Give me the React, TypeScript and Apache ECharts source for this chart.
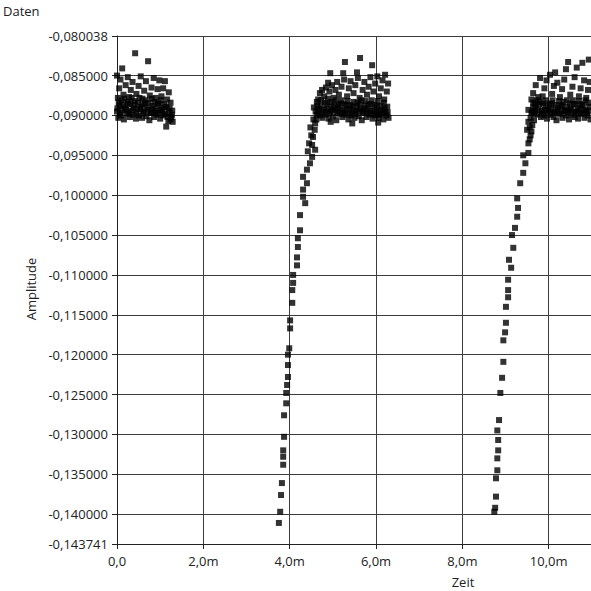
import React, { useEffect, useRef } from 'react';
import * as echarts from 'echarts';

// x in milliseconds, y amplitude
const xTicks = [0, 2, 4, 6, 8, 10];
const yTicks = [
  -0.143741, -0.14, -0.135, -0.13, -0.125, -0.12, -0.115, -0.11, -0.105, -0.1,
  -0.095, -0.09, -0.085, -0.080038,
];
const xRange = [0, 10.98];
const yRange = [-0.143741, -0.080038];

const plateau1: number[][] = [
  [0.0, -0.0895], [0.03, -0.0903], [0.06, -0.0888], [0.09, -0.09], [0.13, -0.0893], [0.16, -0.0905],
  [0.19, -0.089], [0.23, -0.0898], [0.26, -0.0886], [0.3, -0.0902], [0.33, -0.0894], [0.37, -0.0899],
  [0.4, -0.0887], [0.44, -0.0904], [0.47, -0.0892], [0.51, -0.09], [0.54, -0.0889], [0.58, -0.0903],
  [0.61, -0.0895], [0.65, -0.0885], [0.68, -0.0901], [0.72, -0.0893], [0.75, -0.0906], [0.79, -0.0897],
  [0.82, -0.0888], [0.86, -0.0902], [0.89, -0.0894], [0.93, -0.0899], [0.96, -0.0886], [1.0, -0.0904],
  [1.03, -0.0893], [1.07, -0.09], [1.1, -0.089], [1.14, -0.0914], [1.17, -0.0902], [1.2, -0.0896],
  [1.24, -0.0905], [1.27, -0.0899], [1.29, -0.0908],
  [0.0, -0.085], [0.02, -0.0878], [0.05, -0.0866], [0.08, -0.0855], [0.12, -0.0841], [0.15, -0.0874],
  [0.2, -0.0862], [0.25, -0.0852], [0.28, -0.0877], [0.32, -0.0868], [0.36, -0.0858], [0.42, -0.0822],
  [0.45, -0.0873], [0.5, -0.0863], [0.55, -0.0851], [0.59, -0.0879], [0.63, -0.0869], [0.67, -0.0857],
  [0.72, -0.0832], [0.76, -0.0875], [0.8, -0.0865], [0.85, -0.0853], [0.9, -0.0878], [0.94, -0.0867],
  [0.98, -0.0856], [1.03, -0.0876], [1.07, -0.0866], [1.11, -0.0857], [1.16, -0.088], [1.2, -0.0871],
  [1.24, -0.0884],
  [0.01, -0.0891], [0.04, -0.0884], [0.07, -0.0897], [0.1, -0.0881], [0.14, -0.0887], [0.17, -0.0879],
  [0.21, -0.0893], [0.24, -0.0883], [0.27, -0.0896], [0.31, -0.0885], [0.34, -0.0878], [0.38, -0.0891],
  [0.41, -0.0882], [0.45, -0.0896], [0.48, -0.0884], [0.52, -0.0878], [0.55, -0.0892], [0.59, -0.0886],
  [0.62, -0.0897], [0.66, -0.0881], [0.69, -0.089], [0.73, -0.0884], [0.77, -0.0896], [0.8, -0.0879],
  [0.84, -0.0891], [0.87, -0.0883], [0.91, -0.0897], [0.95, -0.0885], [0.98, -0.0893], [1.02, -0.0881],
  [1.05, -0.0896], [1.09, -0.0886], [1.12, -0.0898], [1.15, -0.0889], [1.19, -0.0907], [1.22, -0.0891],
  [1.26, -0.0902], [1.28, -0.0894],
];

const rise2: number[][] = [
  [3.75, -0.1411], [3.78, -0.1397], [3.8, -0.1376], [3.82, -0.1361], [3.85, -0.1338], [3.85, -0.1328],
  [3.85, -0.132], [3.87, -0.1303], [3.87, -0.1276], [3.92, -0.1261], [3.92, -0.1248], [3.94, -0.1238],
  [3.96, -0.1228], [3.96, -0.1213], [3.96, -0.12], [3.99, -0.1192], [4.01, -0.1167], [4.01, -0.1157],
  [4.06, -0.1135], [4.06, -0.1119], [4.08, -0.111], [4.08, -0.11], [4.17, -0.1088], [4.17, -0.1078],
  [4.19, -0.1065], [4.19, -0.1054], [4.24, -0.1044], [4.24, -0.1025], [4.36, -0.101], [4.31, -0.1002],
  [4.31, -0.0993], [4.4, -0.0985], [4.31, -0.0977], [4.4, -0.0968], [4.47, -0.096], [4.52, -0.0952],
  [4.59, -0.0943], [4.52, -0.0937], [4.54, -0.0927], [4.59, -0.091], [4.63, -0.0883], [4.63, -0.0899],
  [4.45, -0.0935], [4.5, -0.0925], [4.48, -0.0915], [4.55, -0.0905], [4.42, -0.0945], [4.58, -0.0918],
  [4.6, -0.0895], [4.56, -0.089],
];

const plateau2: number[][] = [
  [4.62, -0.0905], [4.66, -0.0895], [4.7, -0.09], [4.72, -0.0888], [4.76, -0.0903], [4.8, -0.0893],
  [4.83, -0.0899], [4.87, -0.0886], [4.9, -0.0904], [4.94, -0.0895], [4.97, -0.0889], [5.01, -0.0901],
  [5.04, -0.0893], [5.08, -0.0906], [5.11, -0.089], [5.15, -0.0898], [5.18, -0.0885], [5.22, -0.0902],
  [5.25, -0.0894], [5.29, -0.0899], [5.32, -0.0887], [5.36, -0.0905], [5.39, -0.0892], [5.43, -0.09],
  [5.46, -0.0889], [5.5, -0.0903], [5.53, -0.0895], [5.57, -0.0884], [5.6, -0.0901], [5.64, -0.0892],
  [5.67, -0.0906], [5.71, -0.0897], [5.74, -0.0888], [5.78, -0.0902], [5.81, -0.0893], [5.85, -0.0899],
  [5.88, -0.0886], [5.92, -0.0904], [5.95, -0.0894], [5.99, -0.09], [6.02, -0.0889], [6.06, -0.0903],
  [6.09, -0.0895], [6.13, -0.0898], [6.17, -0.0905], [6.2, -0.0891], [6.24, -0.09], [6.27, -0.0896],
  [4.95, -0.0908], [5.45, -0.091], [6.05, -0.0909],
  [4.89, -0.0859], [4.94, -0.0847], [5.24, -0.0847], [5.28, -0.0833], [5.56, -0.0846], [5.63, -0.0828],
  [5.91, -0.0837], [6.21, -0.0849],
  [4.66, -0.088], [4.7, -0.0872], [4.75, -0.0868], [4.8, -0.0876], [4.84, -0.0865], [4.92, -0.087],
  [4.98, -0.0862], [5.02, -0.0878], [5.06, -0.0868], [5.1, -0.0858], [5.14, -0.0874], [5.2, -0.0864],
  [5.26, -0.0855], [5.33, -0.0876], [5.37, -0.0866], [5.41, -0.0857], [5.48, -0.0872], [5.52, -0.0862],
  [5.58, -0.0853], [5.62, -0.0878], [5.69, -0.0868], [5.73, -0.0858], [5.79, -0.0874], [5.83, -0.0864],
  [5.87, -0.0852], [5.94, -0.087], [5.98, -0.086], [6.03, -0.0851], [6.07, -0.0876], [6.11, -0.0866],
  [6.15, -0.0856], [6.19, -0.088], [6.25, -0.087], [6.28, -0.086],
  [4.64, -0.0888], [4.68, -0.0892], [4.73, -0.0881], [4.78, -0.0896], [4.82, -0.0884], [4.85, -0.0892],
  [4.89, -0.0879], [4.92, -0.0897], [4.96, -0.0883], [4.99, -0.0893], [5.03, -0.0886], [5.07, -0.0881],
  [5.1, -0.0896], [5.13, -0.0887], [5.17, -0.0893], [5.2, -0.0881], [5.24, -0.0897], [5.27, -0.0886],
  [5.31, -0.0893], [5.34, -0.0882], [5.38, -0.0898], [5.41, -0.0887], [5.45, -0.0895], [5.48, -0.0883],
  [5.52, -0.0898], [5.55, -0.0889], [5.59, -0.0894], [5.62, -0.0886], [5.66, -0.0881], [5.69, -0.0895],
  [5.73, -0.0891], [5.76, -0.0882], [5.8, -0.0897], [5.83, -0.0886], [5.87, -0.0894], [5.9, -0.0881],
  [5.94, -0.0898], [5.97, -0.0887], [6.01, -0.0895], [6.04, -0.0882], [6.08, -0.0899], [6.11, -0.0888],
  [6.15, -0.0893], [6.18, -0.0884], [6.22, -0.0896], [6.26, -0.0889], [6.29, -0.0903],
];

const rise3: number[][] = [
  [8.74, -0.1397], [8.76, -0.1392], [8.78, -0.1378], [8.78, -0.1355], [8.81, -0.1345], [8.81, -0.133],
  [8.83, -0.132], [8.83, -0.1307], [8.81, -0.1295], [8.85, -0.1282], [8.88, -0.1248], [8.92, -0.1229],
  [8.95, -0.1209], [8.95, -0.1182], [8.99, -0.1172], [9.01, -0.116], [9.01, -0.114], [9.06, -0.1128],
  [9.06, -0.1119], [9.06, -0.1106], [9.13, -0.1091], [9.08, -0.1081], [9.18, -0.1066], [9.15, -0.105],
  [9.22, -0.1041], [9.27, -0.1027], [9.29, -0.1016], [9.27, -0.1004], [9.34, -0.0985], [9.41, -0.0972],
  [9.46, -0.096], [9.53, -0.0947], [9.41, -0.095], [9.53, -0.0935], [9.5, -0.0918], [9.53, -0.0908],
  [9.53, -0.0893], [9.76, -0.0877], [9.8, -0.0853],
  [9.58, -0.0925], [9.62, -0.0912], [9.66, -0.0898], [9.56, -0.093], [9.64, -0.089], [9.6, -0.092],
];

const plateau3: number[][] = [
  [9.58, -0.0903], [9.62, -0.0895], [9.66, -0.0906], [9.7, -0.089], [9.74, -0.0899], [9.78, -0.0886],
  [9.82, -0.0902], [9.85, -0.0894], [9.89, -0.09], [9.93, -0.0888], [9.96, -0.0904], [10.0, -0.0893],
  [10.04, -0.0899], [10.07, -0.0885], [10.11, -0.0902], [10.14, -0.0895], [10.18, -0.0906], [10.22, -0.089],
  [10.25, -0.0898], [10.29, -0.0887], [10.32, -0.0903], [10.36, -0.0894], [10.4, -0.09], [10.43, -0.0889],
  [10.47, -0.0905], [10.5, -0.0893], [10.54, -0.0899], [10.58, -0.0886], [10.61, -0.0902], [10.65, -0.0895],
  [10.68, -0.0904], [10.72, -0.089], [10.76, -0.0898], [10.79, -0.0887], [10.83, -0.0903], [10.86, -0.0894],
  [10.9, -0.09], [10.94, -0.0889], [10.97, -0.0905],
  [9.56, -0.0915], [9.6, -0.088], [9.68, -0.0885],
  [9.64, -0.0872], [9.7, -0.0862], [9.86, -0.0876], [9.9, -0.0866], [9.95, -0.0856], [10.03, -0.0849],
  [10.08, -0.0873], [10.12, -0.0863], [10.15, -0.0846], [10.2, -0.0859], [10.26, -0.0877], [10.31, -0.0867],
  [10.36, -0.0855], [10.4, -0.0842], [10.45, -0.0833], [10.5, -0.0874], [10.55, -0.0864], [10.6, -0.0852],
  [10.65, -0.084], [10.7, -0.0876], [10.74, -0.0866], [10.78, -0.0834], [10.82, -0.0856], [10.87, -0.0878],
  [10.91, -0.0868], [10.95, -0.0858], [10.93, -0.083],
  [9.6, -0.0897], [9.64, -0.0884], [9.68, -0.0894], [9.72, -0.0881], [9.76, -0.0893], [9.8, -0.0883],
  [9.84, -0.0897], [9.87, -0.0885], [9.91, -0.0893], [9.94, -0.0881], [9.98, -0.0896], [10.02, -0.0886],
  [10.06, -0.0892], [10.09, -0.0881], [10.13, -0.0897], [10.16, -0.0887], [10.2, -0.0894], [10.24, -0.0882],
  [10.27, -0.0897], [10.31, -0.0889], [10.34, -0.0883], [10.38, -0.0894], [10.42, -0.0881], [10.45, -0.0896],
  [10.49, -0.0885], [10.52, -0.0892], [10.56, -0.0881], [10.6, -0.0896], [10.63, -0.0886], [10.67, -0.0893],
  [10.7, -0.0882], [10.74, -0.0897], [10.77, -0.0886], [10.81, -0.0893], [10.85, -0.0881], [10.88, -0.0896],
  [10.92, -0.0884], [10.96, -0.0894],
];

const FONT = '"Open Sans", "Noto Sans", sans-serif';
const TEXT = '#222';
const GRID = '#3c3c3c';

const fmtX = (v: number) => (v === 0 ? '0,0' : v.toFixed(1).replace('.', ',') + 'm');
const fmtY = (v: number) => v.toFixed(6).replace('.', ',');

export default function App() {
  const ref = useRef<HTMLDivElement>(null);
  useEffect(() => {
    if (!ref.current) return;
    const chart = echarts.init(ref.current, undefined, { renderer: 'svg' });
    const data = [...plateau1, ...rise2, ...plateau2, ...rise3, ...plateau3];
    chart.setOption({
      animation: false,
      backgroundColor: '#fff',
      grid: { left: 117, top: 36, right: 0, bottom: 47 },
      xAxis: {
        type: 'value',
        min: xRange[0],
        max: xRange[1],
        axisLine: { show: true, lineStyle: { color: '#222', width: 1 } },
        axisTick: { show: true, length: 5, customValues: xTicks, lineStyle: { color: '#222' } },
        axisLabel: {
          customValues: xTicks,
          formatter: fmtX,
          margin: 10,
          color: TEXT,
          fontSize: 13,
          fontFamily: FONT,
        },
        splitLine: { show: true, lineStyle: { color: GRID, width: 1 } },
      },
      yAxis: {
        type: 'value',
        min: yRange[0],
        max: yRange[1],
        axisLine: { show: true, lineStyle: { color: '#222', width: 1 } },
        axisTick: { show: true, length: 5, customValues: yTicks, lineStyle: { color: '#222' } },
        axisLabel: {
          customValues: yTicks,
          formatter: fmtY,
          margin: 9,
          color: TEXT,
          fontSize: 13,
          fontFamily: FONT,
        },
        splitLine: { show: true, lineStyle: { color: GRID, width: 1 } },
      },
      graphic: [
        {
          type: 'text',
          left: 3,
          top: 4,
          style: { text: 'Daten', fontSize: 13, fill: TEXT, fontFamily: FONT },
        },
        {
          type: 'text',
          x: 31,
          y: 289,
          rotation: Math.PI / 2,
          style: {
            text: 'Amplitude',
            fontSize: 13,
            fill: TEXT,
            fontFamily: FONT,
            textAlign: 'center',
            textVerticalAlign: 'middle',
          },
        },
        {
          type: 'text',
          x: 463,
          y: 582,
          style: {
            text: 'Zeit',
            fontSize: 13,
            fill: TEXT,
            fontFamily: FONT,
            textAlign: 'center',
            textVerticalAlign: 'middle',
          },
        },
      ],
      series: [
        {
          type: 'scatter',
          symbol: 'rect',
          symbolSize: 6,
          itemStyle: { color: '#000' },
          data,
          clip: true,
        },
      ],
    });
    return () => chart.dispose();
  }, []);
  return (
    <div
      ref={ref}
      style={{ position: 'fixed', left: 0, top: 0, width: 591, height: 591, background: '#fff' }}
    />
  );
}
